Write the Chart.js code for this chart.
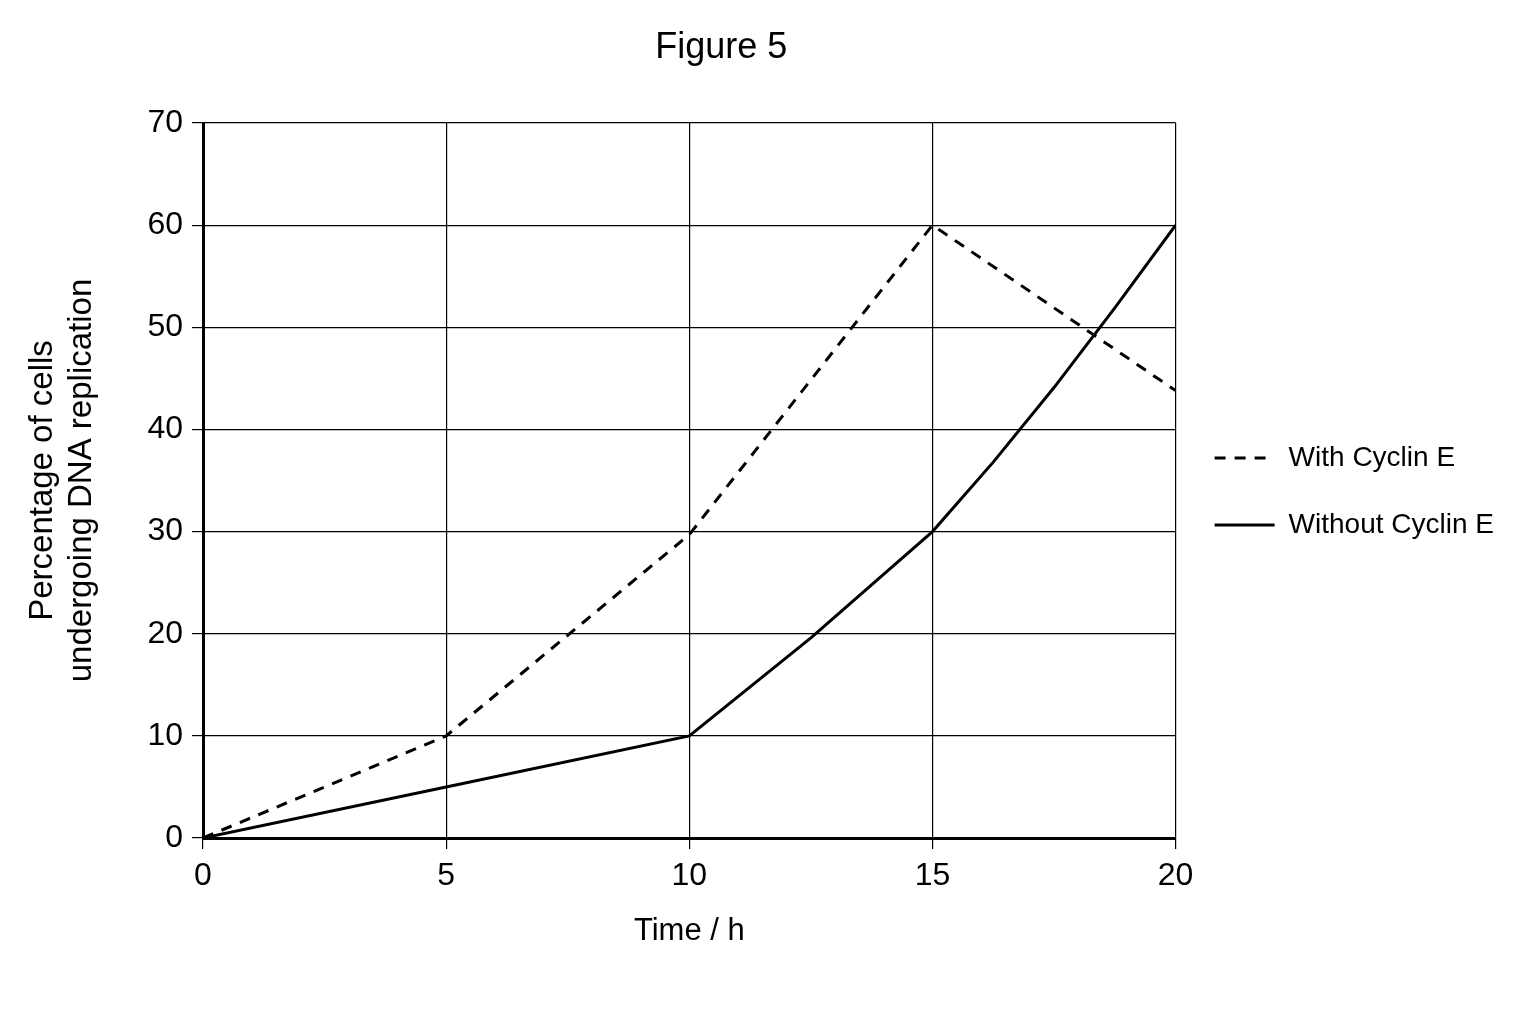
<!DOCTYPE html>
<html>
<head>
<meta charset="utf-8">
<script src="https://cdn.jsdelivr.net/npm/chart.js@4.4.1/dist/chart.umd.min.js"></script>
<style>
  html, body { margin: 0; padding: 0; background: #ffffff; }
  #wrap { width: 1536px; height: 1024px; position: relative; }
</style>
</head>
<body>
<div id="wrap"><canvas id="c" width="1536" height="1024"></canvas></div>
<script>
const chartTitle = 'Figure 5';
const xAxisTitle = 'Time / h';
const yAxisTitle = ['Percentage of cells', 'undergoing DNA replication'];

const withTime = [0, 5, 10, 15, 20];
const withCyclinE = [0, 10, 29.7, 60, 43.8];

const withoutTime = [0, 5, 10, 12.5, 15, 16.25, 17.5, 18.75, 20];
const withoutCyclinE = [0, 5, 10, 19.6, 30, 36.8, 44.1, 51.9, 60];

const seriesNames = ['With Cyclin E', 'Without Cyclin E'];

const xTicks = [0, 5, 10, 15, 20];
const yTicks = [0, 10, 20, 30, 40, 50, 60, 70];

const FONT = "'Liberation Sans', Arial, sans-serif";

const titlePlugin = {
  id: 'figTitle',
  afterDraw(chart) {
    const ctx = chart.ctx;
    const ca = chart.chartArea;
    ctx.save();
    ctx.fillStyle = '#000';
    ctx.font = '36px ' + FONT;
    ctx.textAlign = 'center';
    ctx.textBaseline = 'middle';
    ctx.fillText(chartTitle, (ca.left + ca.right) / 2 + 32, ca.top - 75);
    ctx.restore();
  }
};

// place the legend block vertically beside the plot (slightly below its centre)
const legendPlace = {
  id: 'legendPlace',
  afterLayout(chart) {
    const lg = chart.legend;
    if (!lg) return;
    lg.top = chart.chartArea.top;
    lg.bottom = chart.chartArea.bottom + 22;
  }
};

const toPts = (xs, ys) => xs.map((x, i) => ({ x: x, y: ys[i] }));

new Chart(document.getElementById('c'), {
  type: 'line',
  data: {
    datasets: [
      {
        label: seriesNames[0],
        data: toPts(withTime, withCyclinE),
        borderColor: '#000',
        backgroundColor: '#000',
        borderWidth: 3,
        borderDash: [11, 9],
        pointRadius: 0,
        tension: 0,
        fill: false
      },
      {
        label: seriesNames[1],
        data: toPts(withoutTime, withoutCyclinE),
        borderColor: '#000',
        backgroundColor: '#000',
        borderWidth: 3,
        pointRadius: 0,
        tension: 0,
        fill: false
      }
    ]
  },
  options: {
    responsive: false,
    animation: false,
    devicePixelRatio: 1,
    layout: { padding: { top: 123, left: 0, right: 32, bottom: 0 } },
    plugins: {
      title: { display: false },
      tooltip: { enabled: false },
      legend: {
        display: true,
        position: 'right',
        align: 'center',
        labels: {
          usePointStyle: true,
          pointStyle: 'line',
          pointStyleWidth: 60,
          boxHeight: 28,
          padding: 39,
          color: '#000',
          font: { family: FONT, size: 28 },
          generateLabels: (chart) => {
            const items = Chart.defaults.plugins.legend.labels.generateLabels(chart);
            return items.map((it) => {
              const ds = chart.data.datasets[it.datasetIndex];
              it.lineDash = ds.borderDash || [];
              it.lineWidth = ds.borderWidth;
              it.strokeStyle = ds.borderColor;
              it.pointStyle = 'line';
              return it;
            });
          }
        }
      }
    },
    scales: {
      x: {
        type: 'linear',
        min: 0,
        max: 20,
        afterBuildTicks: (s) => { s.ticks = xTicks.map(v => ({ value: v })); },
        afterFit: (s) => { s.height = 1024 - 838; },
        border: { display: true, color: '#000', width: 3 },
        grid: { color: '#000', lineWidth: 1.2, tickLength: 11, drawTicks: true },
        ticks: { color: '#000', padding: 8, font: { family: FONT, size: 32 } },
        title: {
          display: true,
          text: xAxisTitle,
          color: '#000',
          font: { family: FONT, size: 31 },
          padding: { top: 0, bottom: 74 }
        }
      },
      y: {
        type: 'linear',
        min: 0,
        max: 70,
        afterBuildTicks: (s) => { s.ticks = yTicks.map(v => ({ value: v })); },
        afterFit: (s) => { s.width = 203; },
        border: { display: true, color: '#000', width: 3 },
        grid: { color: '#000', lineWidth: 1.2, tickLength: 11, drawTicks: true },
        ticks: { color: '#000', padding: 9, font: { family: FONT, size: 32 } },
        title: {
          display: true,
          text: yAxisTitle,
          color: '#000',
          font: { family: FONT, size: 33, lineHeight: 1.19 },
          padding: { top: 23, bottom: 0 }
        }
      }
    }
  },
  plugins: [titlePlugin, legendPlace]
});
</script>
</body>
</html>
